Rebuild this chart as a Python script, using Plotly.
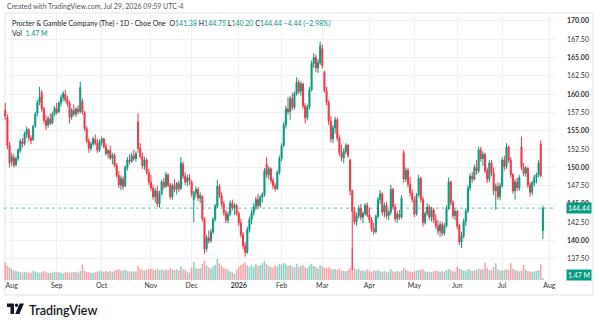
import pandas as pd
import plotly.graph_objects as go

# ---------------- data ----------------
START, END = "2025-07-29", "2026-07-29"
HOLIDAYS = ["2025-09-01", "2025-11-27", "2025-12-25", "2026-01-01", "2026-01-19",
            "2026-02-16", "2026-04-03", "2026-05-25", "2026-06-19", "2026-07-03"]

OPEN = [
    157.8, 156.8, 153.0,
    150.8, 151.3, 150.4, 151.2, 152.3, 153.5, 153.3, 154.5, 155.1, 154.0, 153.8, 155.7, 157.4, 158.9, 160.2, 158.0, 156.4, 155.8, 156.6, 156.1, 157.3,
    158.0, 157.6, 158.8, 159.5, 160.0, 159.3, 158.8, 156.9, 157.8, 157.3, 158.0, 157.6, 159.0, 157.5, 155.3, 153.6, 152.6, 153.2, 153.8, 153.3, 152.4,
    153.4, 153.9, 152.8, 151.9, 152.3, 151.3, 151.6, 150.3, 148.9, 147.6, 148.4, 147.5, 150.0, 151.0, 150.8, 151.6, 151.2, 156.2, 152.6, 151.5, 150.2, 151.0, 149.3,
    148.0, 147.2, 146.0, 146.8, 145.0, 146.4, 148.0, 147.4, 149.0, 147.6, 146.0, 147.5, 147.0, 147.8, 147.1, 150.4, 148.8, 148.0, 148.6,
    148.0, 145.6, 146.5, 147.0, 145.8, 146.0, 143.0, 138.9, 140.4, 140.0, 141.2, 142.9, 144.7, 147.4, 146.2, 145.0, 143.8, 142.8, 143.6, 145.1, 144.5, 144.8,
    143.7, 142.4, 140.8, 139.3, 138.4, 141.5, 142.9, 143.8, 144.6, 145.6, 144.8, 145.9, 146.3, 150.5, 149.0, 149.8, 148.2, 147.5, 147.1, 149.3,
    151.2, 153.0, 155.8, 158.0, 157.6, 159.4, 158.2, 160.1, 161.6, 160.4, 161.4, 158.4, 156.8, 158.2, 160.6, 164.2, 165.0, 163.6, 164.3,
    166.2, 163.0, 160.5, 158.9, 156.3, 153.9, 155.4, 156.5, 154.0, 152.0, 151.3, 152.2, 153.0, 151.0, 146.8, 144.0, 142.6, 143.4, 144.4, 143.2, 143.7, 144.8,
    143.5, 142.8, 141.6, 141.2, 143.3, 145.6, 146.4, 143.9, 144.8, 143.4, 143.9, 147.0, 144.6, 143.0, 143.6, 143.2, 152.0, 148.4, 149.6, 147.7, 146.5,
    145.6, 143.6, 146.2, 148.5, 145.6, 142.5, 143.7, 144.6, 143.2, 144.2, 142.8, 142.0, 141.3, 142.2, 141.0, 142.0, 144.4, 148.0, 145.2, 143.4,
    144.0, 142.0, 139.8, 140.6, 142.6, 144.0, 147.2, 148.8, 148.4, 150.0, 149.5, 152.4, 151.2, 151.8, 149.6, 148.4, 150.6, 149.2, 146.8, 147.4, 146.0,
    147.5, 151.0, 150.1, 152.8, 151.0, 149.0, 146.8, 148.0, 147.2, 152.8, 150.0, 149.2, 149.9, 147.6, 146.6, 147.9, 148.7, 149.0, 153.2, 141.38,
]
HIGH = [
    158.8, 157.2, 153.5,
    152.0, 151.8, 151.5, 152.6, 153.9, 154.0, 154.9, 155.6, 155.4, 154.4, 155.8, 157.6, 159.2, 161.0, 160.6, 158.3, 157.2, 157.0, 157.4, 157.6, 158.4,
    158.8, 159.0, 159.9, 160.4, 160.6, 159.8, 159.1, 158.1, 158.6, 158.2, 158.5, 161.7, 159.4, 157.7, 155.6, 154.0, 153.5, 154.2, 154.5, 153.9, 153.8,
    154.2, 154.0, 153.3, 152.5, 153.0, 152.0, 151.9, 150.6, 149.5, 148.9, 148.8, 150.3, 151.4, 151.8, 152.0, 152.4, 152.2, 157.4, 153.3, 152.0, 151.4, 151.3, 149.8,
    149.0, 147.6, 147.2, 147.5, 146.8, 148.3, 148.6, 149.4, 149.2, 147.9, 147.8, 148.4, 148.0, 148.2, 151.4, 150.8, 149.3, 149.0, 149.1,
    148.3, 146.8, 147.4, 147.3, 146.6, 146.2, 143.2, 140.8, 141.4, 141.6, 143.2, 145.0, 148.3, 147.7, 146.6, 145.4, 144.2, 144.0, 145.5, 145.6, 145.1, 145.0,
    144.0, 143.0, 141.2, 139.8, 141.9, 143.3, 144.2, 145.1, 146.0, 146.4, 146.2, 146.6, 149.9, 151.4, 150.2, 150.0, 148.6, 147.9, 149.6, 151.6,
    153.3, 156.2, 158.4, 159.6, 159.8, 160.2, 160.4, 162.3, 162.0, 161.8, 161.6, 158.8, 158.6, 161.0, 164.6, 165.6, 165.4, 164.8, 167.2,
    166.8, 163.2, 161.0, 159.2, 157.0, 155.8, 156.9, 156.8, 154.4, 153.1, 152.6, 153.3, 153.2, 151.2, 147.0, 144.6, 143.8, 144.8, 145.0, 144.0, 145.1, 145.2,
    144.5, 143.2, 142.4, 143.6, 146.0, 146.9, 146.6, 145.2, 145.3, 144.2, 147.6, 147.2, 145.0, 144.0, 144.2, 146.2, 152.4, 150.0, 149.9, 148.7, 147.0,
    146.0, 146.5, 149.0, 148.7, 146.0, 144.0, 145.1, 144.9, 144.6, 144.5, 143.6, 142.8, 142.6, 142.6, 142.4, 144.8, 148.6, 148.2, 145.5, 144.4,
    144.2, 142.3, 141.2, 143.0, 144.4, 147.6, 149.2, 149.4, 150.4, 151.0, 152.8, 152.8, 152.2, 152.0, 150.0, 151.0, 151.0, 150.0, 147.8, 148.0, 147.9,
    151.4, 151.6, 153.3, 153.0, 151.4, 149.2, 148.4, 148.6, 149.0, 154.2, 150.6, 150.2, 150.0, 148.0, 148.2, 149.0, 149.3, 151.0, 153.7, 144.75,
]
LOW = [
    156.5, 152.5, 150.0,
    150.2, 150.0, 150.1, 150.9, 152.0, 152.7, 153.0, 154.0, 153.6, 153.2, 153.6, 155.4, 157.0, 158.5, 157.6, 156.0, 155.1, 155.4, 155.8, 155.9, 157.0,
    157.2, 157.4, 158.3, 159.0, 158.9, 158.3, 156.0, 156.5, 157.0, 156.9, 157.2, 157.4, 157.2, 155.0, 153.3, 152.0, 152.2, 152.9, 153.0, 152.0, 152.1,
    153.0, 152.6, 151.6, 151.2, 151.0, 150.4, 150.0, 148.6, 147.2, 146.9, 147.0, 147.3, 149.6, 150.4, 150.6, 150.9, 150.8, 152.0, 151.2, 149.8, 149.7, 149.0, 147.6,
    146.8, 145.6, 145.2, 144.6, 144.5, 146.2, 147.0, 147.2, 147.3, 145.6, 145.6, 146.6, 146.3, 146.6, 146.9, 148.4, 147.6, 147.4, 147.6,
    146.0, 142.5, 145.9, 145.4, 145.1, 142.6, 138.2, 138.5, 139.6, 139.7, 140.9, 142.6, 144.4, 145.8, 144.6, 143.4, 142.4, 142.4, 143.3, 144.1, 143.5, 143.4,
    142.0, 140.4, 138.8, 137.8, 138.2, 141.1, 142.2, 143.4, 144.2, 144.3, 144.5, 145.2, 146.0, 148.6, 148.4, 147.8, 147.0, 146.7, 146.9, 149.0,
    150.8, 152.8, 155.3, 157.2, 156.5, 157.8, 157.9, 159.8, 160.0, 159.8, 158.0, 156.0, 156.4, 157.9, 160.4, 163.6, 163.0, 162.9, 164.0,
    163.5, 160.2, 158.5, 155.8, 153.4, 153.3, 154.6, 153.6, 151.6, 150.8, 150.6, 151.8, 151.3, 146.2, 136.0, 142.2, 142.0, 143.0, 142.8, 142.4, 143.4, 143.2,
    142.4, 141.2, 140.8, 141.0, 143.0, 145.0, 143.4, 143.2, 143.0, 142.8, 143.5, 144.2, 142.6, 142.4, 142.8, 143.0, 147.9, 148.0, 147.3, 146.0, 145.2,
    143.2, 143.4, 146.0, 145.2, 141.9, 142.2, 143.4, 142.8, 142.6, 142.4, 141.6, 140.8, 140.5, 140.6, 140.7, 141.8, 144.2, 144.8, 143.0, 142.8,
    141.6, 139.4, 139.0, 140.3, 142.0, 143.8, 146.8, 147.9, 148.2, 149.0, 149.2, 150.8, 150.2, 149.2, 147.9, 148.0, 148.8, 146.2, 144.2, 145.6, 145.5,
    147.2, 149.6, 149.8, 150.6, 148.6, 146.4, 145.6, 146.8, 146.8, 149.6, 148.8, 148.7, 147.2, 146.0, 146.2, 147.4, 147.8, 148.6, 148.6, 140.20,
]
CLOSE = [
    157.0, 153.0, 150.6,
    151.5, 150.3, 151.2, 152.4, 153.6, 153.2, 154.6, 155.2, 154.0, 153.7, 155.6, 157.3, 158.9, 159.6, 158.0, 156.4, 155.7, 156.7, 156.0, 157.3, 158.1,
    157.5, 158.8, 159.5, 160.1, 159.2, 158.7, 156.8, 157.8, 157.3, 158.0, 157.6, 160.9, 157.6, 155.3, 153.6, 152.6, 153.2, 153.9, 153.3, 152.3, 153.5,
    153.9, 152.8, 151.9, 152.3, 151.3, 151.7, 150.3, 148.9, 147.6, 148.5, 147.4, 150.0, 151.0, 150.8, 151.6, 151.2, 151.9, 152.6, 151.5, 150.2, 151.0, 149.3, 148.0,
    147.2, 146.0, 146.8, 145.0, 146.4, 148.0, 147.4, 149.0, 147.6, 146.0, 147.5, 147.0, 147.8, 147.1, 150.6, 148.8, 148.0, 148.6, 148.2,
    146.4, 146.5, 147.0, 145.8, 146.2, 143.0, 138.8, 140.4, 140.0, 141.2, 142.9, 144.7, 147.4, 146.2, 145.0, 143.8, 142.8, 143.6, 145.1, 144.5, 144.8, 143.7,
    142.4, 140.8, 139.3, 138.4, 141.5, 142.9, 143.8, 144.6, 145.6, 144.8, 145.9, 146.3, 149.5, 149.0, 149.8, 148.2, 147.5, 147.1, 149.3, 151.2,
    152.9, 155.8, 158.0, 157.6, 159.4, 158.2, 160.1, 161.6, 160.4, 161.4, 158.4, 156.8, 158.2, 160.6, 164.2, 165.0, 163.6, 164.3, 166.6,
    163.9, 160.5, 158.9, 156.3, 153.9, 155.4, 156.5, 154.0, 152.0, 151.3, 152.2, 153.0, 151.6, 146.8, 144.0, 142.6, 143.4, 144.4, 143.2, 143.7, 144.8, 143.5,
    142.8, 141.6, 141.2, 143.3, 145.6, 146.4, 143.9, 144.8, 143.4, 143.9, 147.0, 144.6, 143.0, 143.6, 143.2, 145.8, 148.4, 149.6, 147.7, 146.5, 145.6,
    143.6, 146.2, 148.5, 145.6, 142.5, 143.7, 144.6, 143.2, 144.2, 142.8, 142.0, 141.3, 142.2, 141.0, 142.0, 144.4, 148.0, 145.2, 143.4, 144.0,
    142.0, 139.8, 140.6, 142.6, 144.0, 147.2, 148.8, 148.4, 150.0, 149.5, 152.4, 151.2, 151.8, 149.6, 148.4, 150.6, 149.2, 146.8, 147.4, 146.0, 147.5,
    151.0, 150.1, 152.8, 151.0, 149.0, 146.8, 148.0, 147.2, 148.6, 150.0, 149.2, 149.9, 147.6, 146.6, 147.9, 148.7, 149.0, 150.6, 148.88, 144.44,
]
VOLUME_M = [
    14.5, 12.0, 10.5,
    9.0, 8.2, 7.4, 7.0, 6.6, 6.2, 6.9, 6.4, 6.0, 6.3, 7.6, 7.1, 6.5, 6.0, 6.7, 7.4, 6.4, 6.1, 5.8, 6.1, 6.9,
    6.4, 6.7, 6.0, 5.6, 6.3, 6.8, 6.0, 6.4, 6.6, 6.9, 6.1, 7.4, 13.0, 7.6, 6.5, 6.7, 5.9, 6.1, 6.3, 7.1, 7.8,
    7.2, 6.8, 7.4, 6.9, 7.5, 6.6, 7.8, 8.4, 9.0, 7.6, 7.9, 8.6, 7.4, 7.0, 7.3, 6.9, 7.2, 11.5, 9.2, 8.4, 7.8, 8.6, 8.8,
    9.4, 8.8, 8.2, 9.6, 8.5, 9.0, 8.1, 8.8, 7.9, 9.8, 8.6, 8.3, 8.9, 8.0, 11.5, 9.2, 8.4, 7.0, 6.2,
    10.5, 15.0, 10.2, 9.4, 9.8, 13.5, 16.5, 12.0, 10.4, 9.6, 11.2, 12.4, 17.5, 14.0, 11.6, 10.2, 9.4, 8.8, 7.2, 6.4, 5.2, 8.5,
    10.8, 12.5, 13.8, 14.5, 12.2, 11.0, 12.6, 10.8, 13.5, 11.8, 12.4, 14.0, 16.0, 13.2, 11.6, 10.9, 10.4, 12.0, 11.2, 13.4,
    12.8, 14.2, 13.0, 11.6, 12.4, 11.2, 10.6, 13.6, 10.8, 11.4, 12.2, 10.4, 9.8, 12.0, 13.4, 11.6, 10.8, 9.6, 12.2,
    11.4, 10.2, 9.8, 10.6, 9.4, 8.6, 9.2, 8.4, 9.6, 8.0, 7.6, 7.2, 8.4, 10.4, 27.0, 9.8, 8.6, 9.0, 7.8, 8.2, 7.4, 8.8,
    7.6, 7.0, 8.2, 7.4, 8.6, 7.2, 6.8, 7.6, 6.4, 7.0, 8.8, 7.2, 6.6, 7.4, 6.8, 7.8, 10.2, 8.4, 7.6, 7.0, 6.6,
    7.4, 7.8, 8.2, 8.6, 9.0, 7.2, 6.8, 7.0, 6.6, 7.4, 7.8, 7.2, 6.9, 7.6, 7.0, 8.4, 9.2, 8.0, 7.2, 6.8,
    11.0, 9.4, 8.8, 7.8, 7.4, 9.0, 8.6, 7.4, 8.0, 8.2, 9.4, 8.6, 9.0, 14.6, 9.8, 8.4, 8.2, 11.0, 14.0, 8.8, 8.2,
    7.8, 8.4, 8.8, 8.2, 14.0, 9.4, 8.6, 7.6, 7.2, 8.0, 12.4, 8.6, 7.4, 7.0, 6.8, 7.2, 7.6, 8.0, 13.2, 1.47,
]

MONTH_TICKS = ["2025-08-01", "2025-09-02", "2025-10-01", "2025-11-03", "2025-12-01", "2026-01-02",
               "2026-02-02", "2026-03-02", "2026-04-01", "2026-05-01", "2026-06-01", "2026-07-01", "2026-08-03"]
MONTH_LABELS = ["Aug", "Sep", "Oct", "Nov", "Dec", "<b>2026</b>", "Feb", "Mar", "Apr", "May", "Jun", "Jul", "Aug"]
PRICE_TICKS = [137.5, 140.0, 142.5, 145.0, 147.5, 150.0, 152.5, 155.0, 157.5, 160.0, 162.5, 165.0, 167.5, 170.0]

LAST_PRICE = 144.44
LAST_VOL_TEXT = "1.47 M"
TITLE = "Procter & Gamble Company (The) · 1D · Cboe One"
HEADER = "Created with TradingView.com, Jul 29, 2026 09:59 UTC-4"

# ---------------- figure ----------------
UP, DOWN = "#089981", "#f23645"
FONT = "Lato"
W, H = 600, 328
L, R, T, B = 4, 556, 13, 280


def px_x(px):
    return (px - L) / (R - L)


def px_y(py):
    return (B - py) / (B - T)


dates = [d for d in pd.bdate_range(START, END) if d.strftime("%Y-%m-%d") not in HOLIDAYS]
n = min(len(dates), len(OPEN), len(HIGH), len(LOW), len(CLOSE), len(VOLUME_M))
dates = dates[:n]

vol_colors = ["rgba(8,153,129,0.45)" if c >= o else "rgba(242,54,69,0.45)"
              for o, c in zip(OPEN[:n], CLOSE[:n])]

fig = go.Figure()
fig.add_trace(go.Bar(x=dates, y=VOLUME_M[:n], marker=dict(color=vol_colors, line_width=0),
                     yaxis="y2", hoverinfo="skip"))
fig.add_trace(go.Candlestick(
    x=dates, open=OPEN[:n], high=HIGH[:n], low=LOW[:n], close=CLOSE[:n],
    increasing=dict(line=dict(color=UP, width=1), fillcolor=UP),
    decreasing=dict(line=dict(color=DOWN, width=1), fillcolor=DOWN),
    whiskerwidth=0,
))

price_text = [("<b>%.2f</b>" % p) if p % 5 == 0 else ("%.2f" % p) for p in PRICE_TICKS]

fig.update_layout(
    width=W, height=H,
    margin=dict(l=L, r=W - R, t=T, b=H - B),
    paper_bgcolor="white", plot_bgcolor="white",
    showlegend=False, bargap=0.25,
    font=dict(family=FONT, size=7, color="#131722"),
    xaxis=dict(
        type="date",
        rangeslider=dict(visible=False),
        rangebreaks=[dict(bounds=["sat", "mon"]), dict(values=HOLIDAYS)],
        range=["2025-07-28 09:36", "2026-08-06 02:50"],
        tickvals=MONTH_TICKS, ticktext=MONTH_LABELS,
        showgrid=True, gridcolor="#eef0f4", gridwidth=1,
        zeroline=False, showline=False, ticks="",
        tickfont=dict(size=7, color="#333")
    ),
    yaxis=dict(
        side="right", range=[134.62, 171.09],
        tickvals=PRICE_TICKS, ticktext=price_text,
        showgrid=True, gridcolor="#eef0f4", gridwidth=1,
        zeroline=False, showline=False, ticks="",
        ticklabelstandoff=10,
        tickfont=dict(size=7, color="#333")
    ),
    yaxis2=dict(overlaying="y", range=[0, 222], visible=False, showgrid=False),
)

# last price dotted line
fig.add_shape(type="line", xref="paper", yref="y", x0=0, x1=1, y0=LAST_PRICE, y1=LAST_PRICE,
              line=dict(color="rgba(8,153,129,0.6)", width=1, dash="dot"))
# container frame
fig.add_shape(type="rect", xref="paper", yref="paper", x0=px_x(5), x1=px_x(593), y0=px_y(295), y1=px_y(13),
              line=dict(color="#e0e3eb", width=1), layer="below")

teal = "color:%s" % UP
legend1 = (TITLE + "  O<span style='%s'>141.38</span> H<span style='%s'>144.75</span> "
           "L<span style='%s'>140.20</span> C<span style='%s'>144.44 −4.44 (−2.98%%)</span>"
           % (teal, teal, teal, teal))
legend2 = "Vol  <span style='%s'>%s</span>" % (teal, LAST_VOL_TEXT)

ann = [
    dict(text=HEADER, x=px_x(5), y=px_y(7), font=dict(size=7, color="#50535e")),
    dict(text=legend1, x=px_x(10), y=px_y(24), font=dict(size=7, color="#131722")),
    dict(text=legend2, x=px_x(10), y=px_y(33), font=dict(size=7, color="#131722")),
    dict(text="TradingView", x=px_x(27), y=px_y(310), font=dict(size=12.5, color="#131722", weight=600)),
]
for a in ann:
    fig.add_annotation(xref="paper", yref="paper", xanchor="left", yanchor="middle", showarrow=False, **a)

fig.add_annotation(xref="paper", yref="y", x=px_x(566), y=LAST_PRICE, text=LAST_PRICE.__format__(".2f"),
                   xanchor="left", yanchor="middle", showarrow=False, bgcolor=UP, borderpad=1,
                   font=dict(size=7, color="white"))
fig.add_annotation(xref="paper", yref="paper", x=px_x(566), y=px_y(275), text=LAST_VOL_TEXT,
                   xanchor="left", yanchor="middle", showarrow=False, bgcolor=UP, borderpad=1,
                   font=dict(size=7, color="white"))

# TradingView logo mark
def path(points):
    return "M " + " L ".join("%.4f,%.4f" % (px_x(a), px_y(b)) for a, b in points) + " Z"

fig.add_shape(type="path", xref="paper", yref="paper",
              path=path([(7, 303.5), (14, 303.5), (14, 314), (10.5, 314), (10.5, 307), (7, 307)]),
              fillcolor="#131722", line=dict(width=0))
fig.add_shape(type="circle", xref="paper", yref="paper", x0=px_x(14.8), x1=px_x(18.2), y0=px_y(307), y1=px_y(303.6),
              fillcolor="#131722", line=dict(width=0))
fig.add_shape(type="path", xref="paper", yref="paper",
              path=path([(19.6, 303.5), (24, 303.5), (19.4, 314), (15.2, 314)]),
              fillcolor="#131722", line=dict(width=0))

fig.write_html("out.html")
